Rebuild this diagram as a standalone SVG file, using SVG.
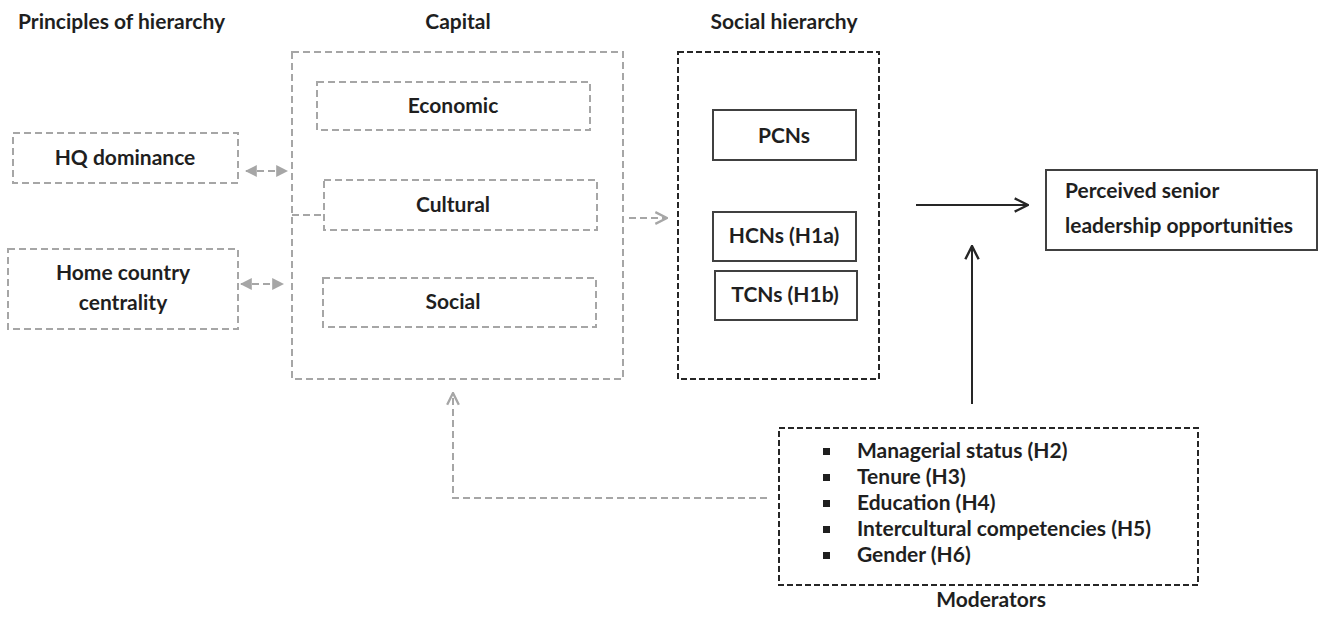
<svg xmlns="http://www.w3.org/2000/svg" width="1319" height="619" viewBox="0 0 1319 619">
<defs>
<style>
text{font-family:"Lato","Open Sans","Liberation Sans",sans-serif;font-weight:bold;font-size:21px;fill:#1f1f1f}
.c{text-anchor:middle}
.gd{fill:none;stroke:#a6a6a6;stroke-width:2;stroke-dasharray:7,4}
.bd{fill:none;stroke:#262626;stroke-width:2;stroke-dasharray:6,3}
.sb{fill:#fff;stroke:#404040;stroke-width:2}
.gl{fill:none;stroke:#a6a6a6;stroke-width:2;stroke-dasharray:7,4}
.bl{fill:none;stroke:#262626;stroke-width:2}
</style>
<marker id="gtri" viewBox="0 0 10 10" refX="9" refY="5" markerWidth="12" markerHeight="12" markerUnits="userSpaceOnUse" orient="auto-start-reverse">
<path d="M0,0 L10,5 L0,10 z" fill="#a6a6a6"/>
</marker>
<marker id="gopen" viewBox="0 0 12 12" refX="11" refY="6" markerWidth="14" markerHeight="14" markerUnits="userSpaceOnUse" orient="auto">
<path d="M1,1 L11,6 L1,11" fill="none" stroke="#a6a6a6" stroke-width="2"/>
</marker>
<marker id="bopen" viewBox="0 0 12 12" refX="11" refY="6" markerWidth="16" markerHeight="16" markerUnits="userSpaceOnUse" orient="auto">
<path d="M1,1 L11,6 L1,11" fill="none" stroke="#262626" stroke-width="1.8"/>
</marker>
</defs>
<rect width="1319" height="619" fill="#fff"/>

<g id="titles">
<text x="18" y="29">Principles of hierarchy</text>
<text class="c" x="458" y="29">Capital</text>
<text class="c" x="784" y="29">Social hierarchy</text>
</g>

<g id="hq-dominance">
<rect class="gd" x="13" y="133" width="225" height="50"/>
<text class="c" x="125" y="165">HQ dominance</text>
</g>
<g id="home-country-centrality">
<rect class="gd" x="8" y="249" width="230" height="80"/>
<text class="c" x="123" y="280">Home country</text>
<text class="c" x="123" y="310">centrality</text>
</g>

<g id="capital">
<rect class="gd" x="292" y="52" width="331" height="327"/>
</g>
<g id="economic">
<rect class="gd" x="317" y="82" width="273" height="48"/>
<text class="c" x="453" y="113">Economic</text>
</g>
<g id="cultural">
<rect class="gd" x="324" y="180" width="273" height="50"/>
<text class="c" x="453" y="212">Cultural</text>
</g>
<g id="social">
<rect class="gd" x="323" y="278" width="273" height="49"/>
<text class="c" x="453" y="309">Social</text>
</g>

<g id="social-hierarchy">
<rect class="bd" x="678" y="52" width="201" height="327"/>
</g>
<g id="pcns">
<rect class="sb" x="713" y="110" width="143" height="50"/>
<text class="c" x="784" y="143">PCNs</text>
</g>
<g id="hcns">
<rect class="sb" x="713" y="212" width="143" height="49"/>
<text class="c" x="784" y="243">HCNs (H1a)</text>
</g>
<g id="tcns">
<rect class="sb" x="715" y="271" width="142" height="49"/>
<text class="c" x="785" y="302">TCNs (H1b)</text>
</g>

<g id="perceived-senior-leadership">
<rect class="sb" x="1046" y="170" width="271" height="80"/>
<text x="1065" y="198">Perceived senior</text>
<text x="1065" y="233">leadership opportunities</text>
</g>

<g id="moderators">
<rect class="bd" x="779" y="428" width="419" height="157"/>
<rect x="823" y="448" width="7" height="7" fill="#1f1f1f"/>
<rect x="823" y="474" width="7" height="7" fill="#1f1f1f"/>
<rect x="823" y="500" width="7" height="7" fill="#1f1f1f"/>
<rect x="823" y="526" width="7" height="7" fill="#1f1f1f"/>
<rect x="823" y="552" width="7" height="7" fill="#1f1f1f"/>
<text x="857" y="458">Managerial status (H2)</text>
<text x="857" y="484">Tenure (H3)</text>
<text x="857" y="510">Education (H4)</text>
<text x="857" y="536">Intercultural competencies (H5)</text>
<text x="857" y="562">Gender (H6)</text>
<text class="c" x="991" y="607">Moderators</text>
</g>

<g id="connectors">
<line class="gl" x1="246" y1="171" x2="287" y2="171" marker-start="url(#gtri)" marker-end="url(#gtri)" stroke-dasharray="6,4"/>
<line class="gl" x1="241" y1="284" x2="283" y2="284" marker-start="url(#gtri)" marker-end="url(#gtri)" stroke-dasharray="6,4"/>
<line class="gl" x1="292" y1="215" x2="324" y2="215" stroke-dasharray="6,4"/>
<line class="gl" x1="629" y1="218" x2="667" y2="218" stroke-dasharray="6,4" marker-end="url(#gopen)"/>
<line class="bl" x1="916" y1="205" x2="1028" y2="205" marker-end="url(#bopen)"/>
<line class="bl" x1="972" y1="404" x2="972" y2="246" marker-end="url(#bopen)"/>
<polyline class="gl" points="767,498 453,498 453,393" marker-end="url(#gopen)"/>
</g>
</svg>
